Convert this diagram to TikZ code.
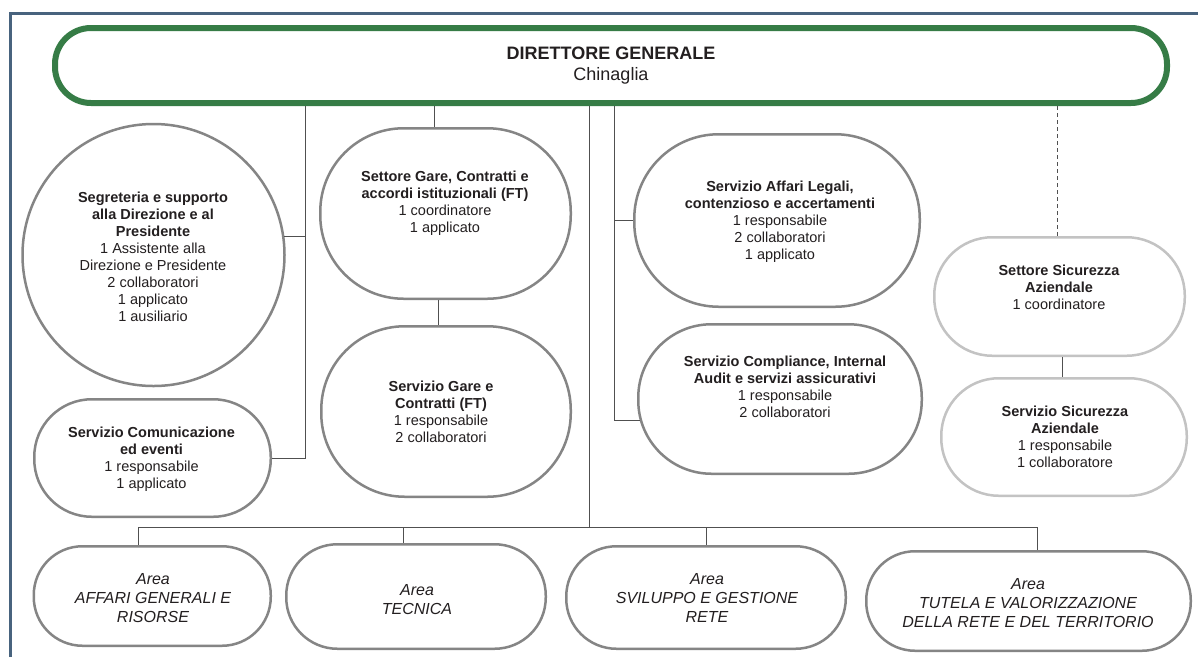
\documentclass[tikz,border=0pt]{standalone}
\usepackage{fontspec}
\setmainfont{Liberation Sans}
\usetikzlibrary{calc}
\definecolor{framec}{HTML}{48637E}
\definecolor{greenc}{HTML}{367C46}
\definecolor{shapec}{HTML}{858585}
\definecolor{lightc}{HTML}{C3C3C3}
\definecolor{linec}{HTML}{505050}
\definecolor{textc}{HTML}{231F20}
\begin{document}
\begin{tikzpicture}[x=1pt,y=-1pt,
  conn/.style={draw=linec, line width=1pt},
  dashconn/.style={conn, dash pattern=on 4pt off 3pt},
  unit/.style={draw=shapec, line width=2.5pt, fill=white, inner sep=0pt},
  lightunit/.style={unit, draw=lightc},
  pill/.style n args={2}{rectangle, minimum width=#1pt, minimum height=#2pt, rounded corners=#2*0.49pt},
  txt/.style={align=center, font=\fontsize{14.5}{17}\selectfont, text=textc, inner sep=0pt},
  areatxt/.style={align=center, font=\fontsize{16}{19}\selectfont\itshape, text=textc, inner sep=0pt},
  dirtxt/.style={align=center, font=\fontsize{18}{21}\selectfont, text=textc}]
\useasboundingbox (0,0) rectangle (1198,657);
\fill[white] (0,0) rectangle (1198,657);
% frame
\draw[framec, line width=3pt] (10,657) -- (10,13) -- (1198,13);

% director
\node[draw=greenc, line width=6pt, fill=white, rectangle, minimum width=1112pt, minimum height=75pt, rounded corners=36pt, dirtxt] (dg) at (611,65.5) {\textbf{DIRETTORE GENERALE}\\Chinaglia};

% units
\node[unit, circle, minimum size=262pt] (seg) at (153.5,255) {};
\node[txt] (seg-t) at (153,256.5) {\textbf{Segreteria e supporto}\\\textbf{alla Direzione e al}\\\textbf{Presidente}\\1 Assistente alla\\Direzione e Presidente\\2 collaboratori\\1 applicato\\1 ausiliario};

\node[unit, pill={236.5}{117.5}] (com) at (152.5,458) {};
\node[txt] (com-t) at (151.5,459.5) {\textbf{Servizio Comunicazione}\\\textbf{ed eventi}\\1 responsabile\\1 applicato};

\node[unit, pill={250.5}{170.5}] (sgare) at (445.5,213.5) {};
\node[txt] (sgare-t) at (445,203.5) {\textbf{Settore Gare, Contratti e}\\\textbf{accordi istituzionali (FT)}\\1 coordinatore\\1 applicato};

\node[unit, pill={249.5}{170.5}] (servgare) at (446,411.5) {};
\node[txt] (servgare-t) at (441,411.5) {\textbf{Servizio Gare e}\\\textbf{Contratti (FT)}\\1 responsabile\\2 collaboratori};

\node[unit, pill={285.5}{172.5}] (legali) at (777,220.5) {};
\node[txt] (legali-t) at (780,222) {\textbf{Servizio Affari Legali,}\\\textbf{contenzioso e accertamenti}\\1 responsabile\\2 collaboratori\\1 applicato};

\node[unit, pill={283.5}{149.5}] (compl) at (780,399) {};
\node[txt] (compl-t) at (785,387) {\textbf{Servizio Compliance, Internal}\\\textbf{Audit e servizi assicurativi}\\1 responsabile\\2 collaboratori};

\node[lightunit, pill={250.5}{118.5}] (ssic) at (1059.5,296.5) {};
\node[txt] (ssic-t) at (1059,287) {\textbf{Settore Sicurezza}\\\textbf{Aziendale}\\1 coordinatore};

\node[lightunit, pill={245.5}{117.5}] (servsic) at (1064,437) {};
\node[txt] (servsic-t) at (1065,437) {\textbf{Servizio Sicurezza}\\\textbf{Aziendale}\\1 responsabile\\1 collaboratore};

% areas
\node[unit, pill={237}{99.5}] (a1) at (152.25,596) {};
\node[areatxt] (a1-t) at (153,598) {Area\\AFFARI GENERALI E\\RISORSE};
\node[unit, pill={259.5}{104.5}] (a2) at (416,596.5) {};
\node[areatxt] (a2-t) at (417,599.5) {Area\\TECNICA};
\node[unit, pill={279.5}{102.5}] (a3) at (706,597.5) {};
\node[areatxt] (a3-t) at (707,598) {Area\\SVILUPPO E GESTIONE\\RETE};
\node[unit, pill={324.5}{99.5}] (a4) at (1028.5,601) {};
\node[areatxt] (a4-t) at (1028,603) {Area\\TUTELA E VALORIZZAZIONE\\DELLA RETE E DEL TERRITORIO};

% connector columns
\coordinate (xL) at (305,0);
\coordinate (xG) at (434,0);
\coordinate (xG2) at (438,0);
\coordinate (xM) at (589,0);
\coordinate (xR) at (614,0);
\coordinate (xS) at (1057,0);
\coordinate (xS2) at (1062,0);
\coordinate (yB) at (0,527);
\coordinate (xA1) at (138.5,0);
\coordinate (xA2) at (403,0);
\coordinate (xA3) at (706,0);
\coordinate (xA4) at (1037,0);
\coordinate (cbr) at ([xshift=3pt,yshift=-21pt]compl.west);

% left bus
\draw[conn] (xL |- dg.south) -- (xL |- com.east) -- (com.east);
\draw[conn] (seg.8) -- (xL |- seg.8);
% Settore Gare
\draw[conn] (xG |- dg.south) -- (xG |- sgare.north);
\draw[conn] (xG2 |- sgare.south) -- (xG2 |- servgare.north);
% right bus
\draw[conn] (xR |- dg.south) -- (xR |- cbr) -- (cbr);
\draw[conn] (legali.west) -- (xR |- legali.west);
% sicurezza
\draw[dashconn] (xS |- dg.south) -- (xS |- ssic.north);
\draw[conn] (xS2 |- ssic.south) -- (xS2 |- servsic.north);
% main + areas bus
\draw[conn] (xM |- dg.south) -- (xM |- yB);
\draw[conn] (xA1 |- a1.north) -- (xA1 |- yB) -- (xA4 |- yB) -- (xA4 |- a4.north);
\draw[conn] (xA2 |- yB) -- (xA2 |- a2.north);
\draw[conn] (xA3 |- yB) -- (xA3 |- a3.north);
\end{tikzpicture}
\end{document}
